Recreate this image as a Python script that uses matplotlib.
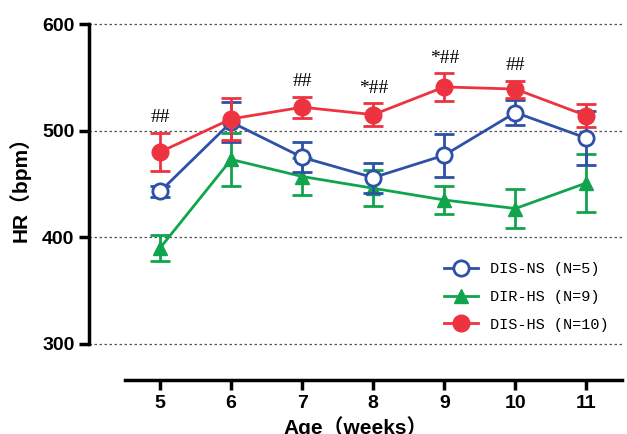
import numpy as np
import matplotlib.pyplot as plt
from matplotlib.lines import Line2D

weeks = [5, 6, 7, 8, 9, 10, 11]

dis_ns = [443, 508, 475, 456, 477, 517, 493]
dis_ns_err = [5, 19, 14, 14, 20, 12, 25]

dir_hs = [390, 473, 457, 446, 435, 427, 451]
dir_hs_err = [12, 25, 17, 17, 13, 18, 27]

dis_hs = [480, 511, 522, 515, 541, 539, 514]
dis_hs_err = [18, 20, 10, 11, 13, 8, 11]

labels = ['DIS-NS (N=5)', 'DIR-HS (N=9)', 'DIS-HS (N=10)']
sig_marks = {5: '##', 7: '##', 8: '*##', 9: '*##', 10: '##'}

blue = '#2e50a6'
green = '#10a54c'
red = '#ee3340'

bold_font = ['Liberation Sans Narrow', 'Liberation Sans', 'Noto Sans CJK JP']

fig = plt.figure(figsize=(6.27, 4.34), dpi=100)
ax = fig.add_axes([0.142, 0.2074, 0.850, 0.7373])

for yv in [300, 400, 500, 600]:
    ax.axhline(yv, color='#555555', lw=0.9, ls=(0, (2, 2)), zorder=0,
               clip_on=False)

kw = dict(lw=2, elinewidth=2, capsize=7, capthick=2)
ax.errorbar(weeks, dir_hs, yerr=dir_hs_err, color=green, marker='^', ms=10,
            zorder=2, **kw)
ax.errorbar(weeks, dis_ns, yerr=dis_ns_err, color=blue, marker='o', ms=11,
            mfc='white', mew=2, zorder=3, **kw)
ax.errorbar(weeks, dis_hs, yerr=dis_hs_err, color=red, marker='o', ms=12,
            zorder=4, **kw)

# significance marks above the DIS-HS error bars
for i, w in enumerate(weeks):
    if w in sig_marks:
        ax.text(w, dis_hs[i] + dis_hs_err[i] + 6, sig_marks[w], ha='center',
                va='bottom', fontsize=14, family='Liberation Serif')

ax.set_xlim(4.0, 11.5)
ax.set_ylim(300, 600)
ax.set_xticks(weeks)
ax.set_yticks([300, 400, 500, 600])

for s in ['top', 'right']:
    ax.spines[s].set_visible(False)
ax.spines['left'].set_linewidth(2.5)
ax.spines['bottom'].set_linewidth(2.5)
ax.spines['bottom'].set_position(('outward', 26))
ax.spines['bottom'].set_bounds(4.5, 11.5)
ax.tick_params(axis='both', width=2.5, length=7, labelsize=14)
for t in ax.get_xticklabels() + ax.get_yticklabels():
    t.set_family(bold_font)
    t.set_fontweight('bold')

ax.set_ylabel('HR（bpm）', fontsize=15, fontweight='bold', family=bold_font,
              labelpad=8)
ax.set_xlabel('Age（weeks）', fontsize=15, fontweight='bold', family=bold_font,
              labelpad=3)

handles = [
    Line2D([], [], color=blue, lw=2, marker='o', ms=11, mfc='white', mew=2),
    Line2D([], [], color=green, lw=2, marker='^', ms=10),
    Line2D([], [], color=red, lw=2, marker='o', ms=12),
]
ax.legend(handles, labels, frameon=False, loc='upper left',
          bbox_to_anchor=(0.655, 0.275), borderaxespad=0,
          handlelength=2.2, labelspacing=0.9,
          prop={'family': 'Liberation Mono', 'size': 11})

fig.savefig('out.png', dpi=100)
